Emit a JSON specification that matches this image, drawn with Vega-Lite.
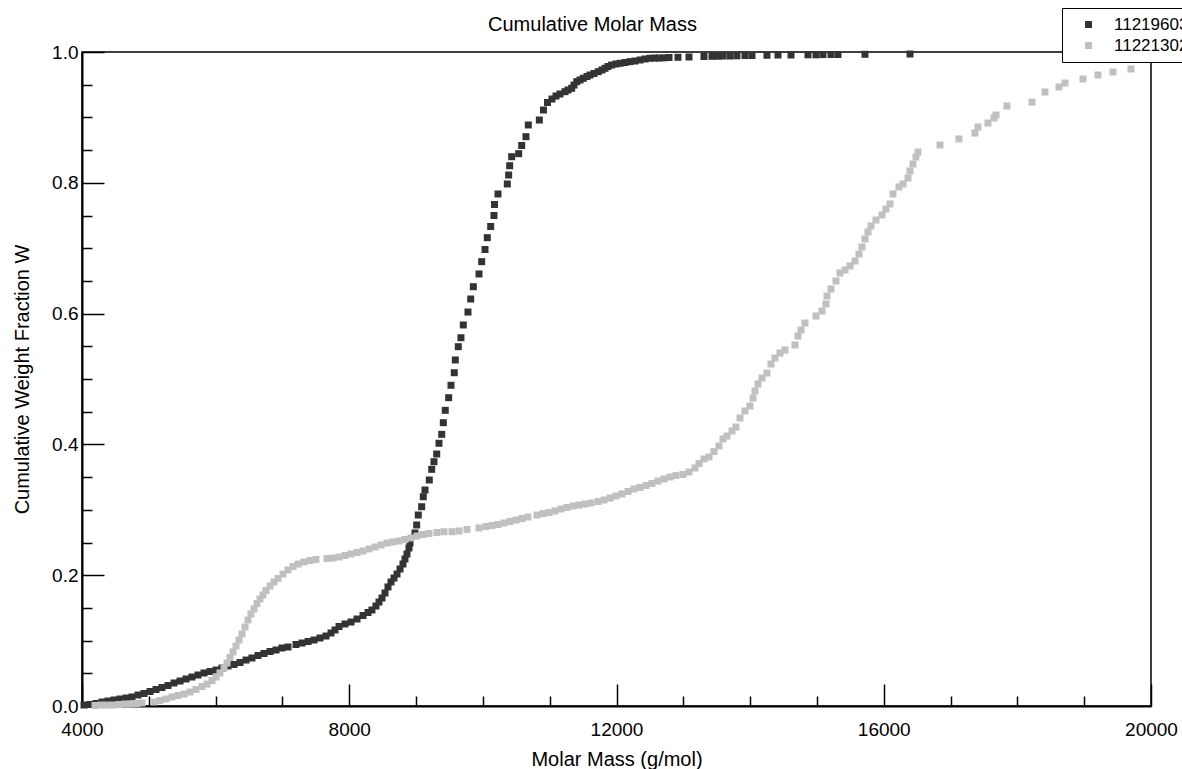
{
  "$schema": "https://vega.github.io/schema/vega-lite/v6.json",
  "autosize": "none",
  "width": 1069,
  "height": 654,
  "padding": {"left": 82, "top": 52, "right": 31, "bottom": 63},
  "background": "white",
  "title": {"text": "Cumulative Molar Mass", "fontSize": 20, "fontWeight": "normal", "font": "Liberation Sans", "color": "black", "frame": "group", "anchor": "middle", "dx": -24, "baseline": "alphabetic", "offset": -43},
  "config": {
    "font": "Liberation Sans",
    "view": {"stroke": "black", "strokeWidth": 1.5},
    "axis": {"grid": false, "domainColor": "black", "domainWidth": 2, "tickColor": "black", "tickWidth": 1.5, "labelColor": "black", "titleColor": "black", "titleFontWeight": "normal", "labelFont": "Liberation Sans", "titleFont": "Liberation Sans"}
  },
  "data": {
    "values": [
      {"s":"11219603","m":4030,"w":0.0015},{"s":"11219603","m":4120,"w":0.0023},{"s":"11219603","m":4210,"w":0.0038},{"s":"11219603","m":4299,"w":0.0061},{"s":"11219603","m":4389,"w":0.0076},{"s":"11219603","m":4479,"w":0.0092},{"s":"11219603","m":4569,"w":0.0107},{"s":"11219603","m":4659,"w":0.0122},{"s":"11219603","m":4748,"w":0.0138},{"s":"11219603","m":4838,"w":0.0168},{"s":"11219603","m":4928,"w":0.0191},{"s":"11219603","m":5018,"w":0.0222},{"s":"11219603","m":5108,"w":0.0252},{"s":"11219603","m":5197,"w":0.0283},{"s":"11219603","m":5287,"w":0.0313},{"s":"11219603","m":5377,"w":0.0352},{"s":"11219603","m":5467,"w":0.0382},{"s":"11219603","m":5557,"w":0.0413},{"s":"11219603","m":5646,"w":0.0443},{"s":"11219603","m":5736,"w":0.0474},{"s":"11219603","m":5826,"w":0.0505},{"s":"11219603","m":5916,"w":0.0528},{"s":"11219603","m":6006,"w":0.0550},{"s":"11219603","m":6095,"w":0.0581},{"s":"11219603","m":6185,"w":0.0612},{"s":"11219603","m":6275,"w":0.0635},{"s":"11219603","m":6365,"w":0.0665},{"s":"11219603","m":6455,"w":0.0703},{"s":"11219603","m":6544,"w":0.0734},{"s":"11219603","m":6634,"w":0.0772},{"s":"11219603","m":6724,"w":0.0803},{"s":"11219603","m":6814,"w":0.0833},{"s":"11219603","m":6904,"w":0.0856},{"s":"11219603","m":6993,"w":0.0887},{"s":"11219603","m":7083,"w":0.0902},{"s":"11219603","m":7203,"w":0.0940},{"s":"11219603","m":7293,"w":0.0963},{"s":"11219603","m":7383,"w":0.0986},{"s":"11219603","m":7472,"w":0.1009},{"s":"11219603","m":7562,"w":0.1040},{"s":"11219603","m":7652,"w":0.1070},{"s":"11219603","m":7727,"w":0.1116},{"s":"11219603","m":7787,"w":0.1162},{"s":"11219603","m":7847,"w":0.1216},{"s":"11219603","m":7936,"w":0.1254},{"s":"11219603","m":8026,"w":0.1284},{"s":"11219603","m":8116,"w":0.1330},{"s":"11219603","m":8206,"w":0.1384},{"s":"11219603","m":8281,"w":0.1430},{"s":"11219603","m":8340,"w":0.1468},{"s":"11219603","m":8400,"w":0.1529},{"s":"11219603","m":8445,"w":0.1590},{"s":"11219603","m":8490,"w":0.1651},{"s":"11219603","m":8535,"w":0.1728},{"s":"11219603","m":8580,"w":0.1820},{"s":"11219603","m":8625,"w":0.1896},{"s":"11219603","m":8670,"w":0.1957},{"s":"11219603","m":8715,"w":0.2018},{"s":"11219603","m":8760,"w":0.2095},{"s":"11219603","m":8804,"w":0.2171},{"s":"11219603","m":8834,"w":0.2248},{"s":"11219603","m":8864,"w":0.2324},{"s":"11219603","m":8894,"w":0.2416},{"s":"11219603","m":8909,"w":0.2492},{"s":"11219603","m":8984,"w":0.2645},{"s":"11219603","m":9009,"w":0.2768},{"s":"11219603","m":9033,"w":0.2920},{"s":"11219603","m":9084,"w":0.3047},{"s":"11219603","m":9108,"w":0.3200},{"s":"11219603","m":9134,"w":0.3303},{"s":"11219603","m":9198,"w":0.3456},{"s":"11219603","m":9234,"w":0.3619},{"s":"11219603","m":9268,"w":0.3735},{"s":"11219603","m":9309,"w":0.3853},{"s":"11219603","m":9343,"w":0.4017},{"s":"11219603","m":9384,"w":0.4154},{"s":"11219603","m":9408,"w":0.4332},{"s":"11219603","m":9437,"w":0.4521},{"s":"11219603","m":9488,"w":0.4714},{"s":"11219603","m":9523,"w":0.4904},{"s":"11219603","m":9572,"w":0.5096},{"s":"11219603","m":9587,"w":0.5291},{"s":"11219603","m":9632,"w":0.5494},{"s":"11219603","m":9672,"w":0.5631},{"s":"11219603","m":9707,"w":0.5826},{"s":"11219603","m":9777,"w":0.6024},{"s":"11219603","m":9818,"w":0.6223},{"s":"11219603","m":9857,"w":0.6411},{"s":"11219603","m":9942,"w":0.6606},{"s":"11219603","m":9982,"w":0.6794},{"s":"11219603","m":10032,"w":0.6980},{"s":"11219603","m":10066,"w":0.7161},{"s":"11219603","m":10117,"w":0.7332},{"s":"11219603","m":10166,"w":0.7500},{"s":"11219603","m":10174,"w":0.7668},{"s":"11219603","m":10226,"w":0.7829},{"s":"11219603","m":10366,"w":0.7982},{"s":"11219603","m":10386,"w":0.8119},{"s":"11219603","m":10401,"w":0.8261},{"s":"11219603","m":10431,"w":0.8399},{"s":"11219603","m":10536,"w":0.8445},{"s":"11219603","m":10581,"w":0.8570},{"s":"11219603","m":10645,"w":0.8705},{"s":"11219603","m":10680,"w":0.8884},{"s":"11219603","m":10845,"w":0.8960},{"s":"11219603","m":10907,"w":0.9113},{"s":"11219603","m":10967,"w":0.9228},{"s":"11219603","m":11034,"w":0.9281},{"s":"11219603","m":11094,"w":0.9327},{"s":"11219603","m":11154,"w":0.9358},{"s":"11219603","m":11229,"w":0.9393},{"s":"11219603","m":11274,"w":0.9419},{"s":"11219603","m":11329,"w":0.9445},{"s":"11219603","m":11364,"w":0.9495},{"s":"11219603","m":11405,"w":0.9546},{"s":"11219603","m":11454,"w":0.9572},{"s":"11219603","m":11503,"w":0.9598},{"s":"11219603","m":11558,"w":0.9625},{"s":"11219603","m":11603,"w":0.9648},{"s":"11219603","m":11663,"w":0.9671},{"s":"11219603","m":11727,"w":0.9699},{"s":"11219603","m":11783,"w":0.9725},{"s":"11219603","m":11828,"w":0.9751},{"s":"11219603","m":11873,"w":0.9778},{"s":"11219603","m":11928,"w":0.9801},{"s":"11219603","m":11992,"w":0.9817},{"s":"11219603","m":12052,"w":0.9827},{"s":"11219603","m":12127,"w":0.9839},{"s":"11219603","m":12202,"w":0.9852},{"s":"11219603","m":12277,"w":0.9862},{"s":"11219603","m":12352,"w":0.9878},{"s":"11219603","m":12427,"w":0.9893},{"s":"11219603","m":12501,"w":0.9904},{"s":"11219603","m":12576,"w":0.9908},{"s":"11219603","m":12636,"w":0.9908},{"s":"11219603","m":12711,"w":0.9911},{"s":"11219603","m":12786,"w":0.9916},{"s":"11219603","m":12920,"w":0.9919},{"s":"11219603","m":13085,"w":0.9924},{"s":"11219603","m":13309,"w":0.9931},{"s":"11219603","m":13429,"w":0.9934},{"s":"11219603","m":13519,"w":0.9936},{"s":"11219603","m":13594,"w":0.9939},{"s":"11219603","m":13699,"w":0.9939},{"s":"11219603","m":13803,"w":0.9942},{"s":"11219603","m":13923,"w":0.9946},{"s":"11219603","m":14028,"w":0.9946},{"s":"11219603","m":14252,"w":0.9950},{"s":"11219603","m":14417,"w":0.9954},{"s":"11219603","m":14612,"w":0.9954},{"s":"11219603","m":14866,"w":0.9957},{"s":"11219603","m":14986,"w":0.9957},{"s":"11219603","m":15090,"w":0.9960},{"s":"11219603","m":15210,"w":0.9962},{"s":"11219603","m":15315,"w":0.9962},{"s":"11219603","m":15719,"w":0.9965},{"s":"11219603","m":16393,"w":0.9969},
      {"s":"11221302","m":4195,"w":0.0008},{"s":"11221302","m":4284,"w":0.0015},{"s":"11221302","m":4374,"w":0.0015},{"s":"11221302","m":4464,"w":0.0015},{"s":"11221302","m":4554,"w":0.0023},{"s":"11221302","m":4644,"w":0.0031},{"s":"11221302","m":4733,"w":0.0031},{"s":"11221302","m":4823,"w":0.0038},{"s":"11221302","m":4898,"w":0.0046},{"s":"11221302","m":5078,"w":0.0061},{"s":"11221302","m":5167,"w":0.0084},{"s":"11221302","m":5257,"w":0.0107},{"s":"11221302","m":5347,"w":0.0138},{"s":"11221302","m":5437,"w":0.0161},{"s":"11221302","m":5527,"w":0.0183},{"s":"11221302","m":5616,"w":0.0214},{"s":"11221302","m":5706,"w":0.0252},{"s":"11221302","m":5796,"w":0.0298},{"s":"11221302","m":5871,"w":0.0336},{"s":"11221302","m":5946,"w":0.0390},{"s":"11221302","m":6006,"w":0.0443},{"s":"11221302","m":6065,"w":0.0505},{"s":"11221302","m":6125,"w":0.0581},{"s":"11221302","m":6170,"w":0.0657},{"s":"11221302","m":6215,"w":0.0742},{"s":"11221302","m":6260,"w":0.0826},{"s":"11221302","m":6305,"w":0.0917},{"s":"11221302","m":6350,"w":0.1009},{"s":"11221302","m":6395,"w":0.1101},{"s":"11221302","m":6440,"w":0.1208},{"s":"11221302","m":6484,"w":0.1315},{"s":"11221302","m":6529,"w":0.1407},{"s":"11221302","m":6574,"w":0.1483},{"s":"11221302","m":6619,"w":0.1567},{"s":"11221302","m":6664,"w":0.1636},{"s":"11221302","m":6709,"w":0.1697},{"s":"11221302","m":6754,"w":0.1766},{"s":"11221302","m":6814,"w":0.1835},{"s":"11221302","m":6874,"w":0.1896},{"s":"11221302","m":6934,"w":0.1950},{"s":"11221302","m":7008,"w":0.2018},{"s":"11221302","m":7083,"w":0.2080},{"s":"11221302","m":7158,"w":0.2133},{"s":"11221302","m":7233,"w":0.2171},{"s":"11221302","m":7323,"w":0.2202},{"s":"11221302","m":7413,"w":0.2225},{"s":"11221302","m":7502,"w":0.2240},{"s":"11221302","m":7667,"w":0.2255},{"s":"11221302","m":7757,"w":0.2263},{"s":"11221302","m":7847,"w":0.2278},{"s":"11221302","m":7936,"w":0.2301},{"s":"11221302","m":8026,"w":0.2324},{"s":"11221302","m":8116,"w":0.2347},{"s":"11221302","m":8206,"w":0.2370},{"s":"11221302","m":8296,"w":0.2401},{"s":"11221302","m":8385,"w":0.2431},{"s":"11221302","m":8475,"w":0.2462},{"s":"11221302","m":8565,"w":0.2492},{"s":"11221302","m":8655,"w":0.2508},{"s":"11221302","m":8745,"w":0.2523},{"s":"11221302","m":8834,"w":0.2546},{"s":"11221302","m":8924,"w":0.2569},{"s":"11221302","m":9014,"w":0.2599},{"s":"11221302","m":9104,"w":0.2622},{"s":"11221302","m":9194,"w":0.2638},{"s":"11221302","m":9313,"w":0.2653},{"s":"11221302","m":9418,"w":0.2665},{"s":"11221302","m":9538,"w":0.2665},{"s":"11221302","m":9643,"w":0.2676},{"s":"11221302","m":9762,"w":0.2699},{"s":"11221302","m":9942,"w":0.2722},{"s":"11221302","m":10047,"w":0.2745},{"s":"11221302","m":10137,"w":0.2760},{"s":"11221302","m":10226,"w":0.2775},{"s":"11221302","m":10316,"w":0.2798},{"s":"11221302","m":10406,"w":0.2821},{"s":"11221302","m":10496,"w":0.2844},{"s":"11221302","m":10586,"w":0.2867},{"s":"11221302","m":10675,"w":0.2890},{"s":"11221302","m":10810,"w":0.2920},{"s":"11221302","m":10900,"w":0.2943},{"s":"11221302","m":10990,"w":0.2959},{"s":"11221302","m":11079,"w":0.2982},{"s":"11221302","m":11169,"w":0.3012},{"s":"11221302","m":11259,"w":0.3035},{"s":"11221302","m":11349,"w":0.3058},{"s":"11221302","m":11439,"w":0.3073},{"s":"11221302","m":11528,"w":0.3089},{"s":"11221302","m":11618,"w":0.3104},{"s":"11221302","m":11723,"w":0.3127},{"s":"11221302","m":11813,"w":0.3150},{"s":"11221302","m":11903,"w":0.3180},{"s":"11221302","m":11992,"w":0.3211},{"s":"11221302","m":12082,"w":0.3242},{"s":"11221302","m":12172,"w":0.3280},{"s":"11221302","m":12262,"w":0.3318},{"s":"11221302","m":12352,"w":0.3341},{"s":"11221302","m":12441,"w":0.3372},{"s":"11221302","m":12531,"w":0.3402},{"s":"11221302","m":12621,"w":0.3440},{"s":"11221302","m":12711,"w":0.3471},{"s":"11221302","m":12801,"w":0.3502},{"s":"11221302","m":12890,"w":0.3524},{"s":"11221302","m":12995,"w":0.3540},{"s":"11221302","m":13085,"w":0.3578},{"s":"11221302","m":13175,"w":0.3639},{"s":"11221302","m":13235,"w":0.3708},{"s":"11221302","m":13309,"w":0.3777},{"s":"11221302","m":13384,"w":0.3807},{"s":"11221302","m":13459,"w":0.3891},{"s":"11221302","m":13534,"w":0.3976},{"s":"11221302","m":13594,"w":0.4083},{"s":"11221302","m":13654,"w":0.4128},{"s":"11221302","m":13729,"w":0.4205},{"s":"11221302","m":13788,"w":0.4266},{"s":"11221302","m":13848,"w":0.4404},{"s":"11221302","m":13923,"w":0.4511},{"s":"11221302","m":13998,"w":0.4587},{"s":"11221302","m":14043,"w":0.4709},{"s":"11221302","m":14073,"w":0.4817},{"s":"11221302","m":14118,"w":0.4924},{"s":"11221302","m":14178,"w":0.5015},{"s":"11221302","m":14252,"w":0.5092},{"s":"11221302","m":14312,"w":0.5229},{"s":"11221302","m":14372,"w":0.5321},{"s":"11221302","m":14447,"w":0.5398},{"s":"11221302","m":14522,"w":0.5443},{"s":"11221302","m":14671,"w":0.5520},{"s":"11221302","m":14716,"w":0.5657},{"s":"11221302","m":14761,"w":0.5749},{"s":"11221302","m":14821,"w":0.5856},{"s":"11221302","m":14986,"w":0.5963},{"s":"11221302","m":15076,"w":0.6040},{"s":"11221302","m":15135,"w":0.6147},{"s":"11221302","m":15150,"w":0.6269},{"s":"11221302","m":15210,"w":0.6376},{"s":"11221302","m":15285,"w":0.6498},{"s":"11221302","m":15345,"w":0.6621},{"s":"11221302","m":15420,"w":0.6667},{"s":"11221302","m":15495,"w":0.6728},{"s":"11221302","m":15570,"w":0.6804},{"s":"11221302","m":15629,"w":0.6911},{"s":"11221302","m":15674,"w":0.7018},{"s":"11221302","m":15719,"w":0.7141},{"s":"11221302","m":15764,"w":0.7248},{"s":"11221302","m":15809,"w":0.7339},{"s":"11221302","m":15884,"w":0.7431},{"s":"11221302","m":15974,"w":0.7508},{"s":"11221302","m":16033,"w":0.7599},{"s":"11221302","m":16093,"w":0.7676},{"s":"11221302","m":16138,"w":0.7829},{"s":"11221302","m":16228,"w":0.7936},{"s":"11221302","m":16288,"w":0.7982},{"s":"11221302","m":16363,"w":0.8073},{"s":"11221302","m":16393,"w":0.8180},{"s":"11221302","m":16438,"w":0.8287},{"s":"11221302","m":16482,"w":0.8394},{"s":"11221302","m":16512,"w":0.8471},{"s":"11221302","m":16842,"w":0.8578},{"s":"11221302","m":17126,"w":0.8670},{"s":"11221302","m":17365,"w":0.8761},{"s":"11221302","m":17410,"w":0.8853},{"s":"11221302","m":17560,"w":0.8914},{"s":"11221302","m":17650,"w":0.8991},{"s":"11221302","m":17680,"w":0.9037},{"s":"11221302","m":17844,"w":0.9174},{"s":"11221302","m":18219,"w":0.9235},{"s":"11221302","m":18413,"w":0.9388},{"s":"11221302","m":18623,"w":0.9465},{"s":"11221302","m":18713,"w":0.9526},{"s":"11221302","m":18982,"w":0.9587},{"s":"11221302","m":19206,"w":0.9648},{"s":"11221302","m":19431,"w":0.9694},{"s":"11221302","m":19700,"w":0.9740}
    ]
  },
  "mark": {"type": "square", "size": 49, "opacity": 1},
  "encoding": {
    "x": {
      "field": "m", "type": "quantitative",
      "scale": {"domain": [4000, 20000], "nice": false, "zero": false},
      "axis": {
        "title": "Molar Mass (g/mol)", "titleFontSize": 20, "titlePadding": -2,
        "values": [4000,5000,6000,7000,8000,9000,10000,11000,12000,13000,14000,15000,16000,17000,18000,19000,20000],
        "format": "d",
        "labelExpr": "datum.value % 4000 === 0 ? datum.label : ''",
        "labelFontSize": 19, "labelPadding": 36, "labelFlush": false, "labelOverlap": false,
        "tickSize": {"condition": {"test": "datum.value % 4000 === 0", "value": -22}, "value": -10}
      }
    },
    "y": {
      "field": "w", "type": "quantitative",
      "scale": {"domain": [0, 1], "nice": false},
      "axis": {
        "title": "Cumulative Weight Fraction W", "titleFontSize": 20, "titlePadding": 19,
        "values": [0,0.05,0.1,0.15,0.2,0.25,0.3,0.35,0.4,0.45,0.5,0.55,0.6,0.65,0.7,0.75,0.8,0.85,0.9,0.95,1],
        "format": ".1f",
        "labelExpr": "round(datum.value * 20) % 4 === 0 ? datum.label : ''",
        "labelFontSize": 19, "labelPadding": 26, "labelFlush": false, "labelOverlap": false,
        "tickSize": {"condition": {"test": "round(datum.value * 20) % 4 === 0", "value": -22}, "value": -10}
      }
    },
    "color": {
      "field": "s", "type": "nominal",
      "scale": {"domain": ["11219603", "11221302"], "range": ["#333333", "#c0c0c0"]},
      "legend": {
        "title": null, "orient": "none", "legendX": 980, "legendY": -44,
        "strokeColor": "black", "fillColor": "white", "padding": 8,
        "symbolType": "square", "symbolSize": 49, "symbolStrokeWidth": 0, "symbolOffset": 10,
        "labelFontSize": 17, "labelOffset": 17, "rowPadding": 3, "labelColor": "black"
      }
    }
  }
}
